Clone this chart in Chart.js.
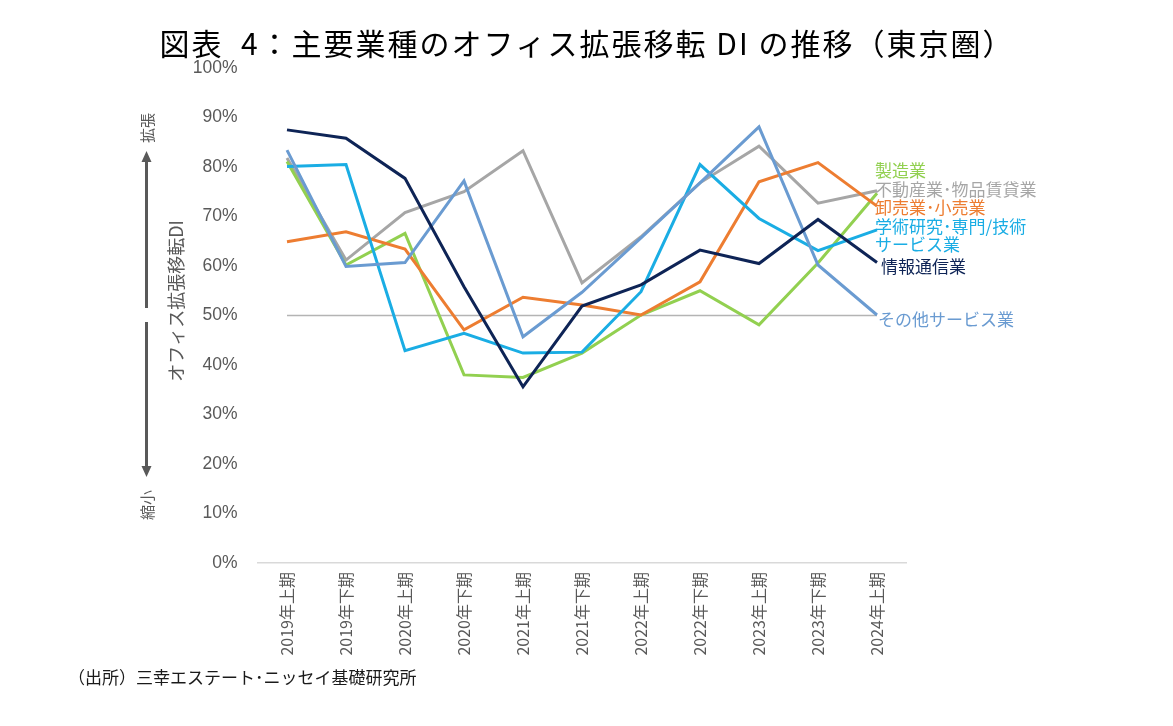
<!DOCTYPE html>
<html lang="ja">
<head>
<meta charset="utf-8">
<script src="https://cdn.jsdelivr.net/npm/chart.js@4"></script>
<style>
  html, body { margin: 0; padding: 0; background: #fff; }
  #wrap { width: 1173px; height: 726px; position: relative; }
</style>
</head>
<body>
<div id="wrap"><canvas id="chart"></canvas></div>
<script>
// 期間
const periods = ['2019年上期', '2019年下期', '2020年上期', '2020年下期', '2021年上期', '2021年下期',
                 '2022年上期', '2022年下期', '2023年上期', '2023年下期', '2024年上期'];

// 業種別 拡張移転DI (%)
const seizo      = [81.1, 60.2, 66.6, 38.0, 37.5, 42.4, 50.1, 55.0, 48.1, 60.6, 74.7];
const fudosan    = [81.8, 61.2, 70.8, 75.0, 83.3, 56.6, 65.9, 76.8, 84.2, 72.7, 75.2];
const oroshi     = [64.9, 66.9, 63.4, 47.1, 53.7, 52.1, 50.1, 56.8, 77.0, 80.9, 72.1];
const gakujutsu  = [80.1, 80.5, 42.9, 46.4, 42.4, 42.6, 54.8, 80.5, 69.6, 63.1, 67.3];
const joho       = [87.5, 85.8, 77.7, 55.8, 35.6, 51.9, 56.2, 63.2, 60.5, 69.4, 60.7];
const sonota     = [83.4, 59.9, 60.7, 77.2, 45.7, 54.7, 65.7, 76.8, 88.1, 60.2, 50.1];
const baseline   = periods.map(() => 50);

const yTicks = [0, 10, 20, 30, 40, 50, 60, 70, 80, 90, 100];

const C_GREEN = '#92D050';
const C_GRAY = '#A6A6A6';
const C_ORANGE = '#ED7D31';
const C_CYAN = '#1AADE4';
const C_NAVY = '#0E2456';
const C_STEEL = '#6A9BD1';
const TXT = '#595959';
const JP = '"Noto Sans CJK JP", "Noto Sans", sans-serif';

function line(label, data, color, order) {
    return {
        label: label,
        data: data,
        borderColor: color,
        backgroundColor: color,
        borderWidth: 3,
        pointRadius: 0,
        tension: 0,
        order: order
    };
}

// 右側の系列名ラベル(テキスト位置だけ指定)
const seriesLabels = [
    { lines: ['製造業'], color: C_GREEN, dx: -2, y: 171 },
    { lines: ['不動産業･物品賃貸業'], color: C_GRAY, dx: -2, y: 190 },
    { lines: ['卸売業･小売業'], color: C_ORANGE, dx: -2, y: 208 },
    { lines: ['学術研究･専門/技術', 'サービス業'], color: C_CYAN, dx: -2, y: 227 },
    { lines: ['情報通信業'], color: C_NAVY, dx: 4, y: 267 },
    { lines: ['その他サービス業'], color: C_STEEL, dx: 1, y: 320 }
];

const decorPlugin = {
    id: 'decor',
    afterDraw(chart) {
        const ctx = chart.ctx;
        const xs = chart.scales.x;
        const lastX = xs.getPixelForValue(periods.length - 1);

        ctx.save();
        // タイトル
        ctx.fillStyle = '#000';
        ctx.font = '30px ' + JP;
        ctx.letterSpacing = '2px';
        ctx.textAlign = 'center';
        ctx.textBaseline = 'middle';
        ctx.fillText('図表  4：主要業種のオフィス拡張移転 DI の推移（東京圏）', 587, 44);
        ctx.letterSpacing = '0px';

        // 系列ラベル
        ctx.font = '17px ' + JP;
        ctx.textAlign = 'left';
        seriesLabels.forEach(s => {
            ctx.fillStyle = s.color;
            s.lines.forEach((t, i) => ctx.fillText(t, lastX + s.dx, s.y + i * 18));
        });

        // 縦軸の注記
        ctx.fillStyle = TXT;
        ctx.strokeStyle = TXT;
        ctx.font = '18px ' + JP;
        ctx.translate(176, 301);
        ctx.rotate(-Math.PI / 2);
        ctx.textAlign = 'center';
        ctx.fillText('オフィス拡張移転DI', 0, 0);
        ctx.setTransform(chart.currentDevicePixelRatio, 0, 0, chart.currentDevicePixelRatio, 0, 0);

        ctx.font = '15px ' + JP;
        [['拡張', 128], ['縮小', 505]].forEach(([t, y]) => {
            ctx.save();
            ctx.translate(147, y);
            ctx.rotate(-Math.PI / 2);
            ctx.fillText(t, 0, 0);
            ctx.restore();
        });

        // 矢印
        ctx.lineWidth = 3;
        ctx.beginPath();
        ctx.moveTo(146.5, 160); ctx.lineTo(146.5, 308);
        ctx.moveTo(146.5, 322); ctx.lineTo(146.5, 468);
        ctx.stroke();
        ctx.beginPath();
        ctx.moveTo(146.5, 151); ctx.lineTo(141.5, 162); ctx.lineTo(151.5, 162); ctx.closePath();
        ctx.moveTo(146.5, 477); ctx.lineTo(141.5, 466); ctx.lineTo(151.5, 466); ctx.closePath();
        ctx.fill();

        // 出所
        ctx.fillStyle = '#1a1a1a';
        ctx.font = '17px ' + JP;
        ctx.textAlign = 'left';
        ctx.fillText('（出所）三幸エステート･ニッセイ基礎研究所', 68, 678);
        ctx.restore();
    }
};

new Chart(document.getElementById('chart'), {
    type: 'line',
    data: {
        labels: periods,
        datasets: [
            line('情報通信業', joho, C_NAVY, 1),
            line('その他サービス業', sonota, C_STEEL, 2),
            line('学術研究･専門/技術サービス業', gakujutsu, C_CYAN, 3),
            line('卸売業･小売業', oroshi, C_ORANGE, 4),
            line('製造業', seizo, C_GREEN, 5),
            line('不動産業･物品賃貸業', fudosan, C_GRAY, 6),
            Object.assign(line('50%', baseline, '#B4B4B4', 10), { borderWidth: 1.5 })
        ]
    },
    options: {
        responsive: true,
        maintainAspectRatio: false,
        animation: false,
        layout: { padding: { top: 68, right: 266.5, bottom: 0, left: 0 } },
        plugins: {
            legend: { display: false },
            tooltip: { enabled: false }
        },
        scales: {
            x: {
                offset: true,
                grid: { display: false, drawTicks: false },
                border: { display: true, color: '#D9D9D9', width: 1.5 },
                ticks: {
                    color: TXT,
                    font: { family: JP, size: 16 },
                    maxRotation: 90,
                    minRotation: 90,
                    padding: 9,
                    autoSkip: false
                },
                afterFit(scale) { scale.height = 163; }
            },
            y: {
                min: 0,
                max: 100,
                afterBuildTicks(scale) { scale.ticks = yTicks.map(v => ({ value: v })); },
                grid: { display: false, drawTicks: false },
                border: { display: false },
                ticks: {
                    color: TXT,
                    font: { family: '"Liberation Sans", Arial, sans-serif', size: 17.5 },
                    padding: 20,
                    callback: v => v + '%'
                },
                afterFit(scale) { scale.width = 257.5; }
            }
        }
    },
    plugins: [decorPlugin]
});
</script>
</body>
</html>
